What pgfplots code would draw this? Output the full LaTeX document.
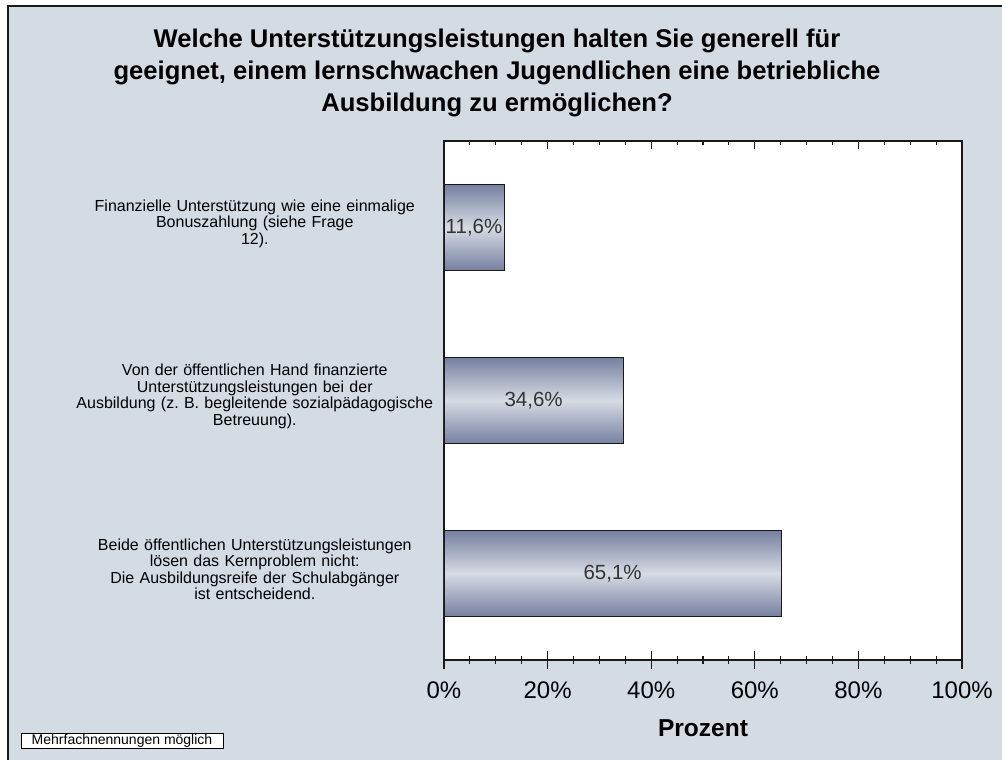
\documentclass[border=0pt]{standalone}
\usepackage{fontspec}
\setmainfont{Liberation Sans}
\usepackage{pgfplots}
\pgfplotsset{compat=1.18}
\frenchspacing
\definecolor{bgc}{RGB}{211,219,227}
\definecolor{bardark}{RGB}{118,128,160}
\definecolor{barlight}{RGB}{214,219,228}
\definecolor{axc}{RGB}{25,25,25}
\pgfplotsset{barstyle/.style={xbar, bar shift=0pt, bar width=86pt, draw=axc, line width=0.9pt,
    top color=bardark, bottom color=bardark, middle color=barlight}}
\begin{document}
\begin{tikzpicture}[x=1pt,y=1pt]
\fill[white] (0,0) rectangle (1002,760);
\fill[bgc] (8,0) rectangle (1002,754);
\draw[axc, line width=1.5pt] (8,0) -- (8,754) -- (1002,754);

% title
\node[anchor=base, font=\fontsize{25.6}{32}\selectfont\bfseries] at (497,712) {Welche Unterstützungsleistungen halten Sie generell für};
\node[anchor=base, font=\fontsize{25.6}{32}\selectfont\bfseries] at (497,680) {geeignet, einem lernschwachen Jugendlichen eine betriebliche};
\node[anchor=base, font=\fontsize{25.6}{32}\selectfont\bfseries] at (497,648) {Ausbildung zu ermöglichen?};

\begin{axis}[
    at={(444pt,100pt)}, anchor=south west,
    scale only axis, width=518pt, height=519pt,
    xmin=0, xmax=100, ymin=-0.5, ymax=2.5,
    axis background/.style={fill=white},
    axis line style={axc, line width=1.3pt},
    xtick={0,20,40,60,80,100},
    minor x tick num=3,
    xtick pos=lower,
    tick align=center,
    major tick length=18pt, minor tick length=8pt,
    every tick/.style={axc, line width=1.1pt},
    /pgf/number format/assume math mode=true,
    xticklabel={\pgfmathprintnumber{\tick}\%},
    xticklabel style={font=\fontsize{24}{26}\selectfont, yshift=-9pt},
    ytick={0,1,2},
    yticklabels={
      {Beide öffentlichen Unterstützungsleistungen\\lösen das Kernproblem nicht:\\Die Ausbildungsreife der Schulabgänger\\ist entscheidend.},
      {Von der öffentlichen Hand finanzierte\\Unterstützungsleistungen bei der\\Ausbildung (z.\ B. begleitende sozialpädagogische\\Betreuung).},
      {Finanzielle Unterstützung wie eine einmalige\\Bonuszahlung (siehe Frage\\12).}
    },
    ytick style={draw=none},
    yticklabel style={font=\fontsize{16}{16.5}\selectfont, text width=420pt, align=center, inner sep=0pt, anchor=east, xshift=30pt, yshift=4pt},
    xlabel={\textbf{Prozent}},
    xlabel style={font=\fontsize{24.5}{26}\selectfont, yshift=-14pt},
]
\addplot[barstyle] coordinates {(65.1,0)};
\addplot[barstyle] coordinates {(34.6,1)};
\addplot[barstyle] coordinates {(11.6,2)};
\addplot[draw=none, mark=none, nodes near coords={\pgfplotspointmeta\%},
    point meta=explicit symbolic,
    nodes near coords style={anchor=center, font=\fontsize{20.5}{22}\selectfont, text=black!80}]
  table[meta=lab] {
x y lab
32.55 0 65,1
17.3 1 34,6
5.8 2 11,6
};
\end{axis}

\begin{axis}[
    at={(444pt,100pt)}, anchor=south west,
    scale only axis, width=518pt, height=519pt,
    xmin=0, xmax=100, ymin=-0.5, ymax=2.5,
    axis line style={draw=none},
    xtick={0,20,40,60,80,100}, xticklabels={},
    minor x tick num=3,
    xtick pos=upper, ytick=\empty,
    tick align=inside,
    major tick length=8pt, minor tick length=4pt,
    every tick/.style={axc, line width=1.1pt},
]
\end{axis}

% note box
\node[draw=black, line width=0.8pt, fill=white, font=\fontsize{14}{15}\selectfont, minimum width=202pt, minimum height=15pt, inner sep=1pt] at (122,19.5) {Mehrfachnennungen möglich};

\pgfresetboundingbox
\path[use as bounding box] (0,0) rectangle (1002,760);
\end{tikzpicture}
\end{document}
